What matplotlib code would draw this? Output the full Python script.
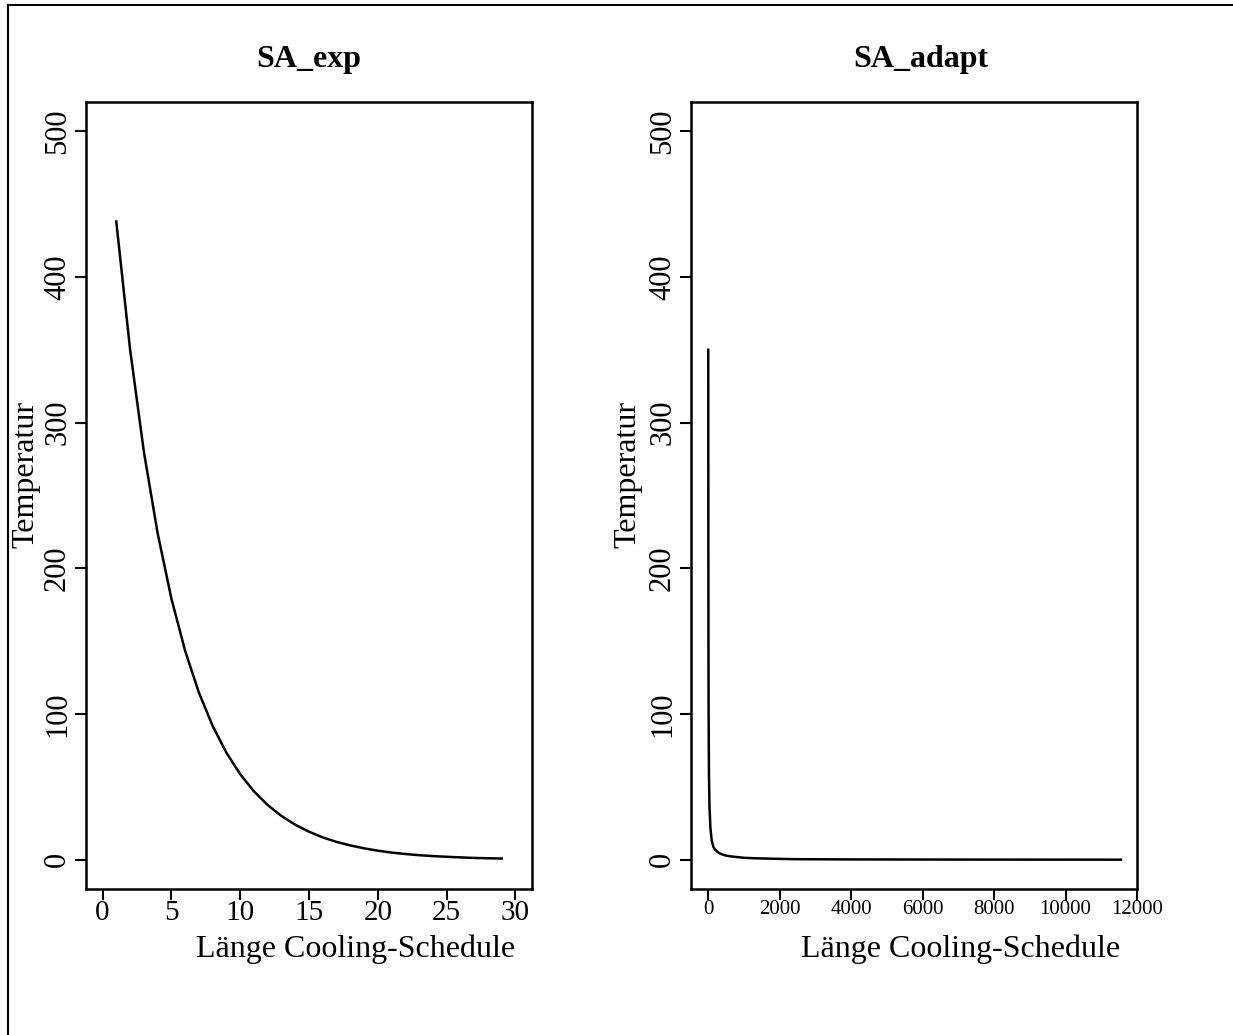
import matplotlib
matplotlib.use("Agg")
import matplotlib.pyplot as plt
from matplotlib.lines import Line2D

plt.rcParams['font.family'] = ['Liberation Serif', 'DejaVu Serif']

# Kühlschema SA_exp: Temperatur je Schritt (Schritt 1..29)
exp_steps = list(range(1, 30))
exp_temp = [438.0, 350.4, 280.3, 224.3, 179.4, 143.5, 114.8, 91.9, 73.5, 58.8,
            47.0, 37.6, 30.1, 24.1, 19.3, 15.4, 12.3, 9.9, 7.9, 6.3,
            5.0, 4.0, 3.2, 2.6, 2.1, 1.7, 1.3, 1.1, 0.9]

# Kühlschema SA_adapt: sehr steiler Abfall, danach fast konstant
adapt_steps = [0, 2, 5, 10, 20, 35, 60, 95, 120, 140, 180, 235, 290, 350, 420,
               500, 600, 690, 850, 1000, 1300, 1666, 2470, 4000, 6000, 8000,
               10000, 11550]
adapt_temp = [350.0, 235.0, 155.0, 100.0, 58.0, 36.0, 22.0, 13.7, 11.0, 9.1,
              7.3, 6.0, 4.9, 4.1, 3.5, 2.9, 2.5, 2.2, 1.8, 1.4, 1.1, 0.85,
              0.45, 0.3, 0.22, 0.17, 0.14, 0.12]

titles = ["SA_exp", "SA_adapt"]
y_ticks = [0, 100, 200, 300, 400, 500]
exp_xticks = [0, 5, 10, 15, 20, 25, 30]
adapt_xticks = [0, 2000, 4000, 6000, 8000, 10000, 12000]

W, H = 1233, 1035
fig = plt.figure(figsize=(W / 100, H / 100), dpi=100)


def px_axes(x0, y0, x1, y1):
    # Achsen in Pixelkoordinaten (von oben gemessen) anlegen
    return fig.add_axes([x0 / W, 1 - y1 / H, (x1 - x0) / W, (y1 - y0) / H])


def style(ax, xticks, xfs):
    for s in ax.spines.values():
        s.set_linewidth(1.8)
    ax.set_yticks(y_ticks)
    ax.set_yticklabels([str(v) for v in y_ticks], rotation=90, va='center', fontsize=22)
    ax.set_xticks(xticks)
    ax.set_xticklabels([str(v) for v in xticks], fontsize=xfs)
    ax.tick_params(direction='out', length=8, width=1.5, pad=2)
    ax.tick_params(axis='x', pad=0)
    ax.set_ylim(-20, 520)


ax1 = px_axes(86, 102, 532, 889)
ax1.plot(exp_steps, exp_temp, color='black', lw=1.8)
ax1.set_xlim(-1.2, 31.2)
style(ax1, exp_xticks, 21)

ax2 = px_axes(691, 102, 1137, 889)
ax2.plot(adapt_steps, adapt_temp, color='black', lw=1.8)
ax2.set_xlim(-483, 11965)
style(ax2, adapt_xticks, 15)


def ftext(x, y, s, **kw):
    fig.text(x / W, 1 - y / H, s, **kw)


# Titel, Achsenbeschriftungen
ftext(309, 67, titles[0], ha='center', va='baseline', fontsize=23, fontweight='bold')
ftext(921, 67, titles[1], ha='center', va='baseline', fontsize=23, fontweight='bold')
ftext(515, 957, "Länge Cooling-Schedule", ha='right', va='baseline', fontsize=23)
ftext(1120, 957, "Länge Cooling-Schedule", ha='right', va='baseline', fontsize=23)
ftext(26, 474, "Temperatur", ha='center', va='center', rotation=90, fontsize=23)
ftext(628, 474, "Temperatur", ha='center', va='center', rotation=90, fontsize=23)

# Rahmen um die Grafik (links und oben)
fig.add_artist(Line2D([8 / W, 8 / W], [0, 1 - 5 / H], transform=fig.transFigure,
                      color='black', lw=1.5))
fig.add_artist(Line2D([8 / W, 1], [1 - 5 / H, 1 - 5 / H], transform=fig.transFigure,
                      color='black', lw=1.5))

fig.savefig("out.png", dpi=100)
